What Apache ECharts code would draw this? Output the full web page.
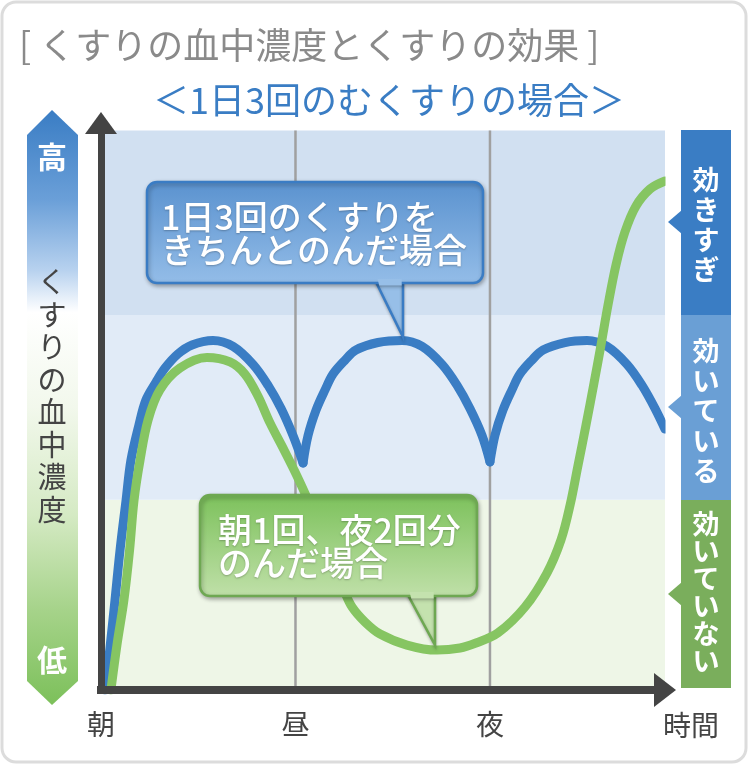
<!DOCTYPE html>
<html><head><meta charset="utf-8">
<script src="https://cdn.jsdelivr.net/npm/echarts@6/dist/echarts.min.js"></script>
<style>html,body{margin:0;padding:0;background:#fff}#c{width:750px;height:765px}</style>
</head><body><div id="c"></div>
<script>
// ---------------- data ----------------
const titleText = '[ くすりの血中濃度とくすりの効果 ]';
const subtitleText = '＜1日3回のむくすりの場合＞';
const xTickValues = [0, 100, 200];
const xTickLabels = ['朝', '昼', '夜'];
const xAxisName = '時間';
const xMax = 290;
const yMax = 304;
const yAxisName = 'くすりの血中濃度';
const yHighLabel = '高';
const yLowLabel = '低';
const bandEdges = [0, 102, 201, 300];
const levelLabels = ['効きすぎ', '効いている', '効いていない']; // top to bottom
const calloutBlueLines = ['1日3回のくすりを', 'きちんとのんだ場合'];
const calloutGreenLines = ['朝1回、夜2回分', 'のんだ場合'];

// 1日3回きちんとのんだ場合 (three doses: 朝・昼・夜)
const blueDose1 = [[2.1,0],[4.6,22.5],[7.2,48.3],[9.8,75.1],[12.9,101.9],[15.4,123.3],[19.5,142.1],[23.1,155.5],[28.3,165.1],[32.9,172.6],[39.6,180.2],[46.8,185.0],[57.6,187.4],[67.9,184.2],[78.2,174.5],[85.9,163.3],[92.6,150.9],[98.7,136.5],[103.9,121.7]];
const blueDose2 = [[103.9,121.7],[106.4,136.2],[110.6,150.1],[115.2,160.9],[119.3,169.4],[125.5,176.9],[131.1,182.3],[142.4,186.3],[154.8,187.4],[165.1,184.2],[175.4,174.5],[183.1,163.3],[189.7,150.9],[195.9,136.5],[200.0,122.3]];
const blueDose3 = [[200.0,122.3],[202.6,136.7],[206.7,150.1],[211.3,160.9],[215.4,169.4],[221.6,176.9],[227.3,182.3],[238.6,186.3],[249.9,187.4],[260.2,184.2],[270.5,174.5],[278.2,163.3],[284.9,150.9],[290.0,139.9]];
// 朝1回、夜2回分のんだ場合
const greenCurve = [[5.1,0],[8.2,24.1],[11.8,48.3],[14.7,75.1],[17.0,101.9],[20.1,123.3],[24.2,144.8],[30.3,160.9],[40.6,172.6],[54.5,178.3],[66.3,175.9],[74.0,169.4],[80.7,157.6],[86.9,143.2],[94.1,128.7],[100.8,114.7],[107.5,99.2],[113.6,83.1],[119.3,68.1],[124.9,53.6],[129.1,44.5],[135.7,36.5],[143.5,30.0],[157.3,24.1],[172.8,21.4],[184.6,22.5],[192.8,25.2],[204.1,30.6],[218.0,44.5],[229.3,62.7],[236.5,80.4],[241.2,99.2],[245.3,120.6],[249.4,142.1],[253.5,164.6],[257.1,185.0],[260.7,206.4],[264.8,227.9],[269.4,245.6],[275.1,259.5],[282.3,268.6],[290.0,272.9]];

// ---------------- styles ----------------
const FONT = '"Noto Sans CJK JP", "Noto Sans", sans-serif';
const BLUE = '#3a7dc4';
const GREEN = '#86c562';
const bandColors = ['#eef6e7', '#e1ebf7', '#d1e0f1']; // bottom, mid, top
const boxColors = ['#3a7dc4', '#6a9fd5', '#7aae5c'];

const chart = echarts.init(document.getElementById('c'), null, {renderer: 'canvas'});

const markAreaData = [];
for (let i = 0; i < bandEdges.length - 1; i++) {
  markAreaData.push([
    {xAxis: 0, yAxis: bandEdges[i], itemStyle: {color: bandColors[i]}},
    {xAxis: xMax, yAxis: bandEdges[i + 1]}
  ]);
}

function curveSeries(data, color, z) {
  return {
    type: 'line', data: data, smooth: 0.35, symbol: 'none', z: z,
    lineStyle: {color: color, width: 9, cap: 'round', join: 'round'},
    silent: true
  };
}

function vtext(s) { return s.split('').join('\n'); }

const graphics = [];
// card border
graphics.push({type: 'rect', z: 100, shape: {x: 2, y: 2, width: 744, height: 760, r: 14},
  style: {fill: 'none', stroke: '#dcdcdc', lineWidth: 3}});
// title & subtitle
graphics.push({type: 'text', z: 20, x: 19, y: 45, style: {text: titleText, fill: '#8a8a8a',
  font: '36px ' + FONT, textAlign: 'left', textVerticalAlign: 'middle', align: 'left', verticalAlign: 'middle'}});
graphics.push({type: 'text', z: 20, x: 153, y: 100, style: {text: subtitleText, fill: BLUE,
  font: '36px ' + FONT, textAlign: 'left', textVerticalAlign: 'middle', align: 'left', verticalAlign: 'middle'}});
// left gradient arrow
graphics.push({type: 'polygon', z: 20, shape: {points: [[52,110],[78,135],[78,681],[52,705],[27,681],[27,135]]},
  style: {fill: new echarts.graphic.LinearGradient(0, 0, 0, 1, [
    {offset: 0, color: '#3a7dc4'}, {offset: 0.15, color: '#6a9fd8'}, {offset: 0.27, color: '#b8d2ef'},
    {offset: 0.34, color: '#ffffff'}, {offset: 0.5, color: '#f2f8ec'}, {offset: 0.68, color: '#d5eac4'},
    {offset: 0.84, color: '#a6d38a'}, {offset: 1, color: '#7cc05a'}])}});
graphics.push({type: 'text', z: 21, x: 52, y: 157, style: {text: yHighLabel, fill: '#fff',
  font: 'bold 30px ' + FONT, textAlign: 'center', textVerticalAlign: 'middle', align: 'center', verticalAlign: 'middle'}});
graphics.push({type: 'text', z: 21, x: 52, y: 660, style: {text: yLowLabel, fill: '#fff',
  font: 'bold 30px ' + FONT, textAlign: 'center', textVerticalAlign: 'middle', align: 'center', verticalAlign: 'middle'}});
graphics.push({type: 'text', z: 21, x: 52, y: 396, style: {text: vtext(yAxisName), fill: '#444',
  font: '29px ' + FONT, lineHeight: 32.5, textAlign: 'center', textVerticalAlign: 'middle', align: 'center', verticalAlign: 'middle'}});
// white cover right of plot (clip)
graphics.push({type: 'rect', z: 6, shape: {x: 665.5, y: 120, width: 15, height: 551}, style: {fill: '#fff'}});
// right level boxes
const boxes = [[130, 185, 222, 225, 30], [315, 185, 407, 411, 30], [500, 188, 594, 592, 27.5]];
boxes.forEach((b, i) => {
  graphics.push({type: 'rect', z: 7, shape: {x: 681, y: b[0], width: 50, height: b[1]}, style: {fill: boxColors[i]}});
  graphics.push({type: 'polygon', z: 7, shape: {points: [[668, b[2]], [682, b[2] - 12], [682, b[2] + 12]]}, style: {fill: boxColors[i]}});
  graphics.push({type: 'text', z: 8, x: 706, y: b[3], style: {text: vtext(levelLabels[i]), fill: '#fff',
    font: 'bold 27px ' + FONT, lineHeight: b[4], textAlign: 'center', textVerticalAlign: 'middle', align: 'center', verticalAlign: 'middle'}});
});
// x axis name
graphics.push({type: 'text', z: 20, x: 691, y: 725, style: {text: xAxisName, fill: '#444',
  font: '28px ' + FONT, textAlign: 'center', textVerticalAlign: 'middle', align: 'center', verticalAlign: 'middle'}});

// callouts
function callout(body, tail, patch, top, bottom, border, tailFill, textX, textY, lines, z) {
  graphics.push({type: 'polygon', z: z, shape: {points: tail},
    style: {fill: tailFill, stroke: border, lineWidth: 2.5, shadowBlur: 3, shadowColor: 'rgba(0,0,0,0.25)', shadowOffsetY: 1}});
  graphics.push({type: 'rect', z: z + 1, shape: body,
    style: {fill: new echarts.graphic.LinearGradient(0, 0, 0, 1, [{offset: 0, color: top}, {offset: 1, color: bottom}]),
      stroke: border, lineWidth: 2.5, shadowBlur: 4, shadowColor: 'rgba(0,0,0,0.3)', shadowOffsetX: 1, shadowOffsetY: 2}});
  graphics.push({type: 'polygon', z: z + 2, shape: {points: patch}, style: {fill: tailFill}});
  graphics.push({type: 'text', z: z + 3, x: textX, y: textY, style: {text: lines.join('\n'), fill: '#fff',
    font: '500 34px ' + FONT, lineHeight: 33, textAlign: 'left', textVerticalAlign: 'middle', align: 'left', verticalAlign: 'middle',
    textShadowColor: 'rgba(0,0,0,0.25)', textShadowBlur: 2, textShadowOffsetY: 1}});
}
callout({x: 147, y: 182, width: 336, height: 101, r: 10},
  [[376, 282], [403, 282], [403, 337]], [[377.5, 279], [401.7, 279], [401.7, 285.5], [379.3, 285.5]],
  '#5a92cf', '#94bde8', '#3a7cc4', '#97bfe8', 161, 234, calloutBlueLines, 30);
callout({x: 200, y: 495, width: 277, height: 101, r: 10},
  [[408, 595], [435, 595], [435, 645]], [[409.5, 592], [433.7, 592], [433.7, 598.5], [411.3, 598.5]],
  '#7cc15b', '#c0e0a9', '#6ea852', '#c4e2ae', 218, 547, calloutGreenLines, 40);

const option = {
  animation: false,
  backgroundColor: '#ffffff',
  grid: {left: 101, right: 85, top: 123, bottom: 75, containLabel: false},
  xAxis: {
    type: 'value', min: 0, max: xMax, interval: 100, z: 5,
    axisLine: {show: true, onZero: false, symbol: ['none', 'triangle'], symbolSize: [34, 22],
      lineStyle: {color: '#444', width: 8, cap: 'square'}},
    axisTick: {show: false}, splitLine: {show: false},
    axisLabel: {color: '#444', fontSize: 28, fontFamily: FONT, margin: 20,
      formatter: v => { const i = xTickValues.indexOf(v); return i >= 0 ? xTickLabels[i] : ''; }}
  },
  yAxis: {
    type: 'value', min: 0, max: yMax, z: 5,
    axisLine: {show: true, onZero: false, symbol: ['none', 'triangle'], symbolSize: [32, 22],
      lineStyle: {color: '#444', width: 7, cap: 'square'}},
    axisTick: {show: false}, splitLine: {show: false}, axisLabel: {show: false}
  },
  series: [
    {type: 'line', data: [[xTickValues[1], bandEdges[0]], [xTickValues[1], bandEdges[3]]], symbol: 'none', z: 2, silent: true,
      lineStyle: {color: '#a0a0a0', width: 2.5},
      markArea: {silent: true, data: markAreaData}},
    {type: 'line', data: [[xTickValues[2], bandEdges[0]], [xTickValues[2], bandEdges[3]]], symbol: 'none', z: 2, silent: true,
      lineStyle: {color: '#a0a0a0', width: 2.5}},
    curveSeries(blueDose1, BLUE, 3),
    curveSeries(blueDose2, BLUE, 3),
    curveSeries(blueDose3, BLUE, 3),
    curveSeries(greenCurve, GREEN, 4)
  ],
  graphic: {elements: graphics}
};
chart.setOption(option);
</script>
</body></html>
